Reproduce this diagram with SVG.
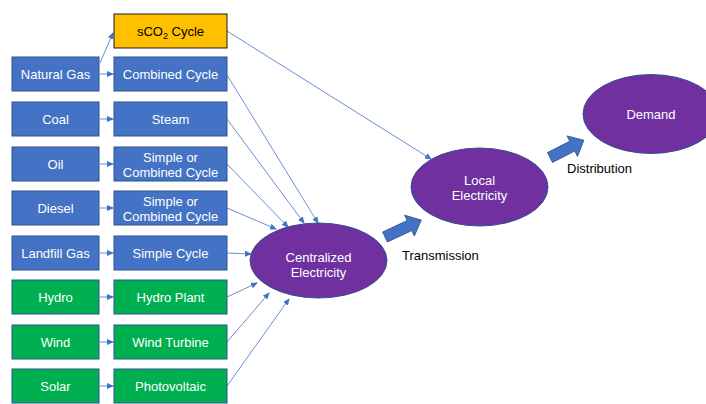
<svg xmlns="http://www.w3.org/2000/svg" width="706" height="404" viewBox="0 0 706 404">
<style>
.b{fill:#4472C4;stroke:#2F528F;stroke-width:1}
.g{fill:#00B050;stroke:#2F528F;stroke-width:1}
.y{fill:#FFC000;stroke:#1a1a1a;stroke-width:1}
.e{fill:#7030A0;stroke:#2F528F;stroke-width:1}
.t{font-family:"Liberation Sans",Arial,sans-serif;font-size:13px;fill:#fff;text-anchor:middle}
.k{font-family:"Liberation Sans",Arial,sans-serif;font-size:13px;fill:#000}
.c{stroke:#4472C4;stroke-width:0.8;fill:none;marker-end:url(#ah)}
.ba{fill:#4472C4;stroke:#2F528F;stroke-width:0.8}
</style>
<defs>
<marker id="ah" markerWidth="7" markerHeight="6" refX="6" refY="3" orient="auto" markerUnits="userSpaceOnUse">
<path d="M0,0 L7,3 L0,6 z" fill="#4472C4"/>
</marker>
</defs>
<rect width="706" height="404" fill="#fff"/>
<g id="connectors">
<line class="c" x1="100" y1="63" x2="113" y2="33"/>
<line class="c" x1="100" y1="74" x2="113" y2="74"/>
<line class="c" x1="100" y1="119" x2="113" y2="119"/>
<line class="c" x1="100" y1="164" x2="113" y2="164"/>
<line class="c" x1="100" y1="208" x2="113" y2="208"/>
<line class="c" x1="100" y1="253" x2="113" y2="253"/>
<line class="c" x1="100" y1="297" x2="113" y2="297"/>
<line class="c" x1="100" y1="342" x2="113" y2="342"/>
<line class="c" x1="100" y1="386" x2="113" y2="386"/>
<line class="c" x1="227" y1="31" x2="431" y2="159"/>
<line class="c" x1="227" y1="75" x2="318" y2="223"/>
<line class="c" x1="227" y1="119" x2="304" y2="223"/>
<line class="c" x1="227" y1="164" x2="288" y2="227"/>
<line class="c" x1="227" y1="208" x2="276" y2="229"/>
<line class="c" x1="227" y1="253" x2="251" y2="254"/>
<line class="c" x1="227" y1="297" x2="257" y2="283"/>
<line class="c" x1="227" y1="342" x2="269" y2="293"/>
<line class="c" x1="227" y1="386" x2="289" y2="299"/>
<path class="ba" d="M0,-5.5 L27,-5.5 L27,-11.5 L40,0 L27,11.5 L27,5.5 L0,5.5 z" transform="translate(385,237) rotate(-25)"/>
<path class="ba" d="M0,-5.5 L25,-5.5 L25,-11.5 L38,0 L25,11.5 L25,5.5 L0,5.5 z" transform="translate(550,157.5) rotate(-27)"/>
</g>
<g id="natural-gas"><rect class="b" x="12" y="57" width="87" height="34"/><text class="t" x="55.5" y="79">Natural Gas</text></g>
<g id="coal"><rect class="b" x="12" y="102" width="87" height="34"/><text class="t" x="55.5" y="124">Coal</text></g>
<g id="oil"><rect class="b" x="12" y="147" width="87" height="34"/><text class="t" x="55.5" y="169">Oil</text></g>
<g id="diesel"><rect class="b" x="12" y="191" width="87" height="34"/><text class="t" x="55.5" y="213">Diesel</text></g>
<g id="landfill-gas"><rect class="b" x="12" y="236" width="87" height="34"/><text class="t" x="55.5" y="258">Landfill Gas</text></g>
<g id="hydro"><rect class="g" x="12" y="280" width="87" height="34"/><text class="t" x="55.5" y="302">Hydro</text></g>
<g id="wind"><rect class="g" x="12" y="325" width="87" height="34"/><text class="t" x="55.5" y="347">Wind</text></g>
<g id="solar"><rect class="g" x="12" y="369" width="87" height="34"/><text class="t" x="55.5" y="391">Solar</text></g>
<g id="sco2-cycle"><rect class="y" x="114" y="14" width="113" height="34"/><text class="t" x="170.5" y="36" style="fill:#000">sCO<tspan font-size="9" dy="3">2</tspan><tspan dy="-3"> Cycle</tspan></text></g>
<g id="combined-cycle"><rect class="b" x="114" y="57" width="113" height="34"/><text class="t" x="170.5" y="79">Combined Cycle</text></g>
<g id="steam"><rect class="b" x="114" y="102" width="113" height="34"/><text class="t" x="170.5" y="124">Steam</text></g>
<g id="oil-plant"><rect class="b" x="114" y="147" width="113" height="34"/><text class="t" x="170.5" y="161.5">Simple or</text><text class="t" x="170.5" y="176.5">Combined Cycle</text></g>
<g id="diesel-plant"><rect class="b" x="114" y="191" width="113" height="34"/><text class="t" x="170.5" y="205.5">Simple or</text><text class="t" x="170.5" y="220.5">Combined Cycle</text></g>
<g id="simple-cycle"><rect class="b" x="114" y="236" width="113" height="34"/><text class="t" x="170.5" y="258">Simple Cycle</text></g>
<g id="hydro-plant"><rect class="g" x="114" y="280" width="113" height="34"/><text class="t" x="170.5" y="302">Hydro Plant</text></g>
<g id="wind-turbine"><rect class="g" x="114" y="325" width="113" height="34"/><text class="t" x="170.5" y="347">Wind Turbine</text></g>
<g id="photovoltaic"><rect class="g" x="114" y="369" width="113" height="34"/><text class="t" x="170.5" y="391">Photovoltaic</text></g>
<g id="centralized-electricity"><ellipse class="e" cx="318.5" cy="260.5" rx="68.5" ry="37.5"/><text class="t" x="318.5" y="261.5">Centralized</text><text class="t" x="318.5" y="276.5">Electricity</text></g>
<g id="local-electricity"><ellipse class="e" cx="479.5" cy="187" rx="68.5" ry="39"/><text class="t" x="479.5" y="184.5">Local</text><text class="t" x="479.5" y="199.5">Electricity</text></g>
<g id="demand"><ellipse class="e" cx="651" cy="114" rx="68" ry="39.5"/><text class="t" x="651" y="118.5">Demand</text></g>
<text class="k" x="402" y="260">Transmission</text>
<text class="k" x="567" y="173">Distribution</text>
</svg>
